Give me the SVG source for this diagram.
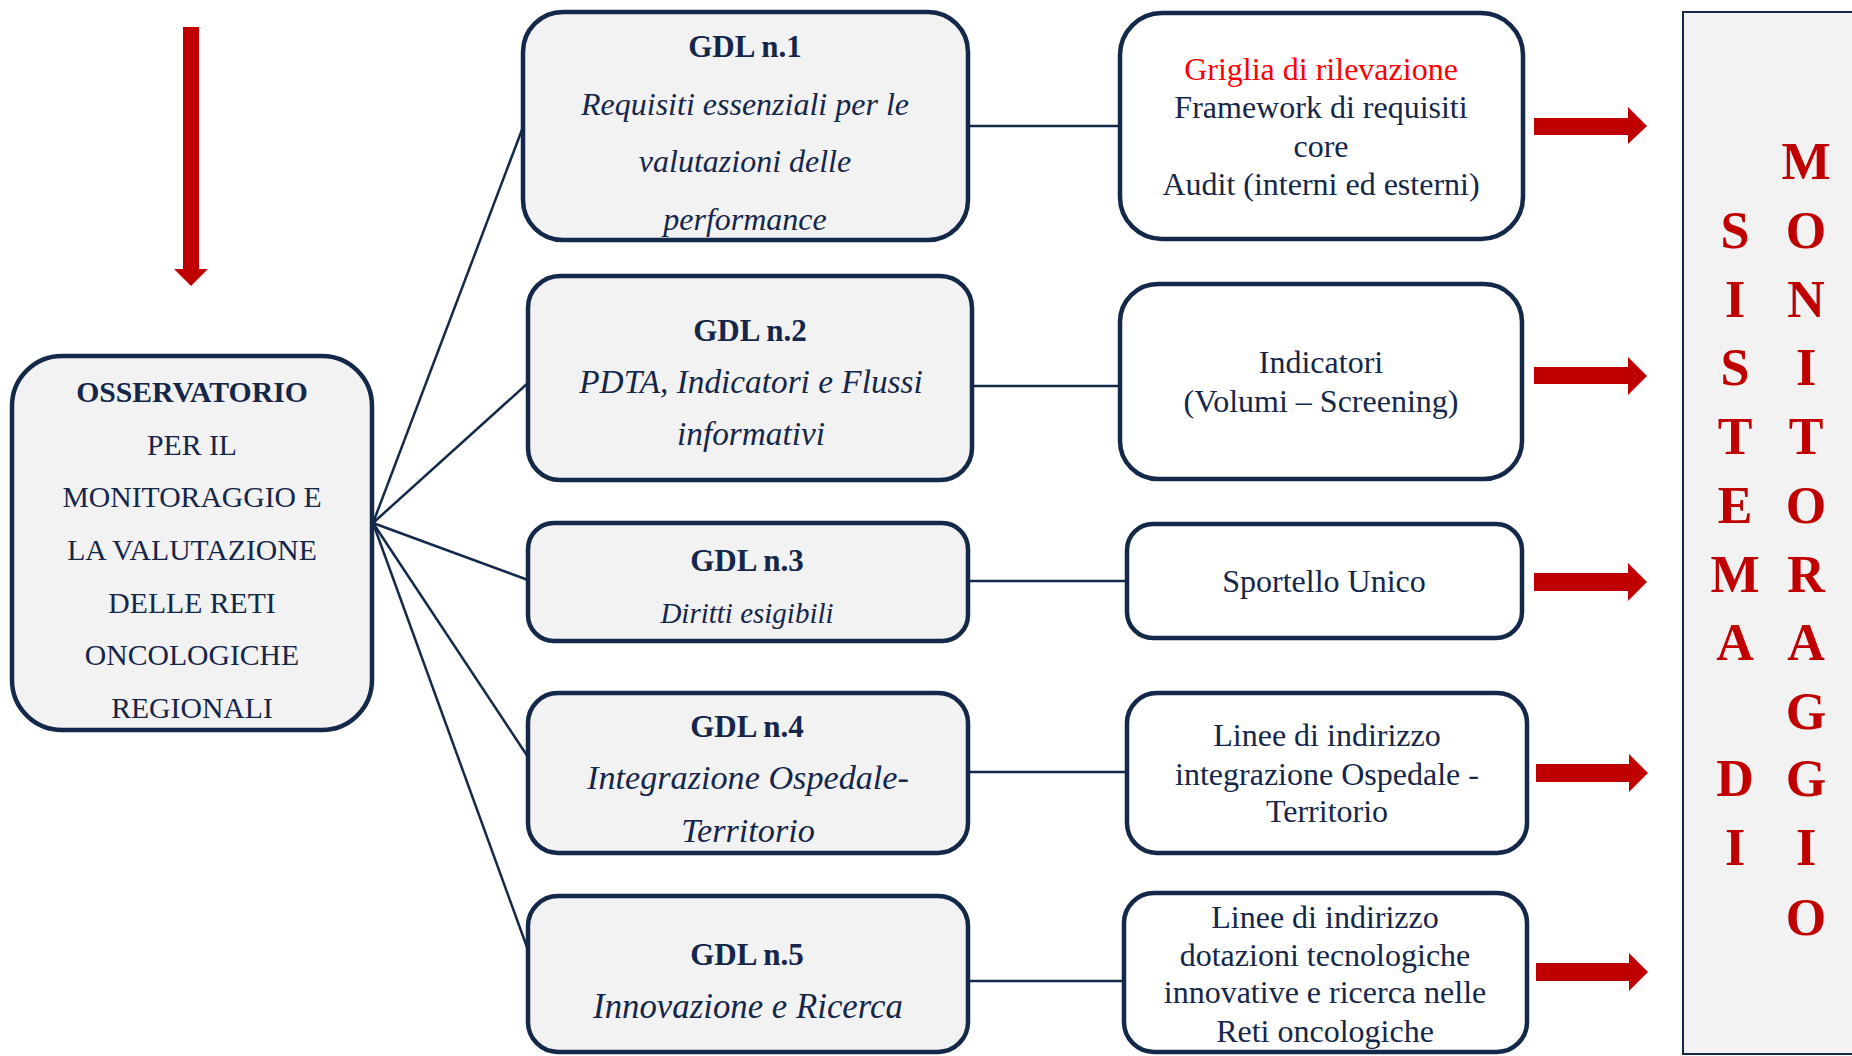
<svg xmlns="http://www.w3.org/2000/svg" width="1852" height="1056" viewBox="0 0 1852 1056">
<style>
.gbox{fill:#f2f2f2;stroke:#14294a;stroke-width:4.5}
.wbox{fill:#ffffff;stroke:#14294a;stroke-width:4.5}
.conn{stroke:#14294a;stroke-width:2.5;fill:none}
.t{font-family:"Liberation Serif","Times New Roman",serif;fill:#14264a;text-anchor:middle}
.b{font-weight:bold}
.i{font-style:italic}
.red{fill:#c00000}
.sv{font-family:"Liberation Serif","Times New Roman",serif;font-weight:bold;font-size:52px;fill:#c00000;text-anchor:middle}
</style>
<rect width="1852" height="1056" fill="#ffffff"/>
<g id="arrow-top">
<polygon class="red" points="183,27 199,27 199,269 208,269 191,286 174,269 183,269"/>
</g>
<g id="connectors">
<line class="conn" x1="373" y1="523" x2="523" y2="127"/>
<line class="conn" x1="373" y1="523" x2="528" y2="383"/>
<line class="conn" x1="373" y1="523" x2="528" y2="580"/>
<line class="conn" x1="373" y1="523" x2="528" y2="757"/>
<line class="conn" x1="373" y1="523" x2="528" y2="950"/>
<line class="conn" x1="968" y1="126" x2="1120" y2="126"/>
<line class="conn" x1="968" y1="386" x2="1120" y2="386"/>
<line class="conn" x1="970" y1="581" x2="1127" y2="581"/>
<line class="conn" x1="968" y1="772" x2="1127" y2="772"/>
<line class="conn" x1="968" y1="981" x2="1124" y2="981"/>
</g>
<g id="observatorio">
<rect class="gbox" x="12" y="356" width="360" height="374" rx="50"/>
<text class="t" font-size="29.7"><tspan class="b" x="192" y="402">OSSERVATORIO</tspan><tspan x="192" y="455">PER IL</tspan><tspan x="192" y="507">MONITORAGGIO E</tspan><tspan x="192" y="560">LA VALUTAZIONE</tspan><tspan x="192" y="613">DELLE RETI</tspan><tspan x="192" y="665">ONCOLOGICHE</tspan><tspan x="192" y="718">REGIONALI</tspan></text>
</g>
<g id="gdl1">
<rect class="gbox" x="523" y="12" width="445" height="228" rx="40"/>
<text class="t b" x="745" y="57" font-size="31">GDL n.1</text>
<text class="t i" font-size="32"><tspan x="745" y="115">Requisiti essenziali per le</tspan><tspan x="745" y="172">valutazioni delle</tspan><tspan x="745" y="230">performance</tspan></text>
</g>
<g id="gdl2">
<rect class="gbox" x="528" y="276" width="444" height="204" rx="32"/>
<text class="t b" x="750" y="341" font-size="31">GDL n.2</text>
<text class="t i" font-size="33.3"><tspan x="751" y="393">PDTA, Indicatori e Flussi</tspan><tspan x="751" y="445">informativi</tspan></text>
</g>
<g id="gdl3">
<rect class="gbox" x="528" y="523" width="440" height="118" rx="26"/>
<text class="t b" x="747" y="571" font-size="31">GDL n.3</text>
<text class="t i" x="747" y="623" font-size="29">Diritti esigibili</text>
</g>
<g id="gdl4">
<rect class="gbox" x="528" y="693" width="440" height="160" rx="30"/>
<text class="t b" x="747" y="737" font-size="31">GDL n.4</text>
<text class="t i" font-size="34.2"><tspan x="748" y="789">Integrazione Ospedale-</tspan><tspan x="748" y="842">Territorio</tspan></text>
</g>
<g id="gdl5">
<rect class="gbox" x="528" y="896" width="440" height="156" rx="30"/>
<text class="t b" x="747" y="965" font-size="31">GDL n.5</text>
<text class="t i" x="748" y="1018" font-size="34.8">Innovazione e Ricerca</text>
</g>
<g id="out1">
<rect class="wbox" x="1120" y="13" width="403" height="226" rx="42"/>
<text class="t" font-size="32"><tspan x="1321" y="80" fill="#ff0000">Griglia di rilevazione</tspan><tspan x="1321" y="118">Framework di requisiti</tspan><tspan x="1321" y="157">core</tspan><tspan x="1321" y="195">Audit (interni ed esterni)</tspan></text>
</g>
<g id="out2">
<rect class="wbox" x="1120" y="284" width="402" height="195" rx="38"/>
<text class="t" font-size="32"><tspan x="1321" y="373">Indicatori</tspan><tspan x="1321" y="412">(Volumi – Screening)</tspan></text>
</g>
<g id="out3">
<rect class="wbox" x="1127" y="524" width="395" height="114" rx="26"/>
<text class="t" x="1324" y="592" font-size="32">Sportello Unico</text>
</g>
<g id="out4">
<rect class="wbox" x="1127" y="693" width="400" height="160" rx="30"/>
<text class="t" font-size="32"><tspan x="1327" y="746">Linee di indirizzo</tspan><tspan x="1327" y="785">integrazione Ospedale -</tspan><tspan x="1327" y="822">Territorio</tspan></text>
</g>
<g id="out5">
<rect class="wbox" x="1124" y="893" width="403" height="159" rx="30"/>
<text class="t" font-size="32"><tspan x="1325" y="928">Linee di indirizzo</tspan><tspan x="1325" y="966">dotazioni tecnologiche</tspan><tspan x="1325" y="1003">innovative e ricerca nelle</tspan><tspan x="1325" y="1042">Reti oncologiche</tspan></text>
</g>
<g id="red-arrows">
<polygon class="red" points="1534,118 1628,118 1628,107 1647,126 1628,144 1628,135 1534,135"/>
<polygon class="red" points="1534,367 1628,367 1628,357 1647,376 1628,395 1628,384 1534,384"/>
<polygon class="red" points="1534,573 1628,573 1628,563 1647,582 1628,601 1628,591 1534,591"/>
<polygon class="red" points="1536,764 1629,764 1629,754 1648,773 1629,792 1629,782 1536,782"/>
<polygon class="red" points="1536,963 1629,963 1629,953 1648,972 1629,991 1629,981 1536,981"/>
</g>
<g id="sistema-monitoraggio">
<rect x="1683" y="12" width="180" height="1042" fill="#f2f2f2" stroke="#14294a" stroke-width="2"/>
<text class="sv"><tspan x="1735" y="248">S</tspan><tspan x="1735" y="317">I</tspan><tspan x="1735" y="385">S</tspan><tspan x="1735" y="454">T</tspan><tspan x="1735" y="523">E</tspan><tspan x="1735" y="592">M</tspan><tspan x="1735" y="660">A</tspan><tspan x="1735" y="796">D</tspan><tspan x="1735" y="865">I</tspan></text>
<text class="sv"><tspan x="1806" y="179">M</tspan><tspan x="1806" y="248">O</tspan><tspan x="1806" y="317">N</tspan><tspan x="1806" y="385">I</tspan><tspan x="1806" y="454">T</tspan><tspan x="1806" y="523">O</tspan><tspan x="1806" y="592">R</tspan><tspan x="1806" y="660">A</tspan><tspan x="1806" y="729">G</tspan><tspan x="1806" y="796">G</tspan><tspan x="1806" y="865">I</tspan><tspan x="1806" y="935">O</tspan></text>
</g>
</svg>
